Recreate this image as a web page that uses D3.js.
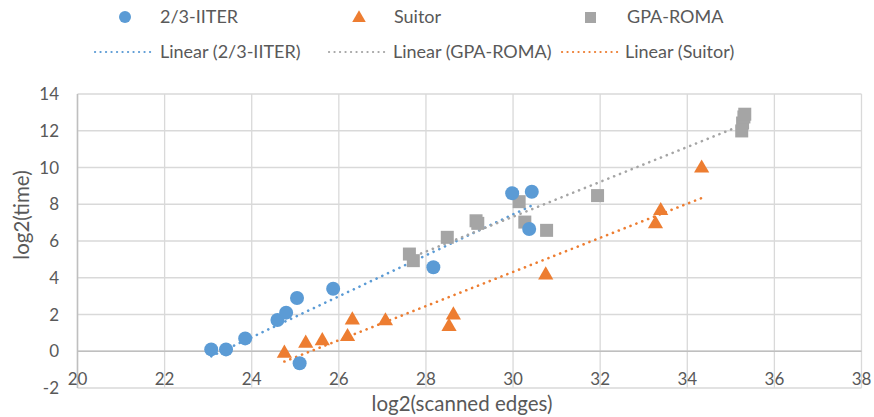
<!DOCTYPE html>
<html>
<head>
<meta charset="utf-8">
<script src="https://cdn.jsdelivr.net/npm/d3@7"></script>
<style>
  body { margin: 0; background: #fff; }
  svg text { font-family: Lato, "Open Sans", sans-serif; fill: #595959; }
</style>
</head>
<body>
<div id="chart"></div>
<script>
// log2(scanned edges) / log2(time)
const iterX = [23.07, 23.41, 23.85, 24.59, 24.79, 25.04, 25.10, 25.87, 28.17, 29.98, 30.43, 30.37];
const iterY = [0.10, 0.10, 0.70, 1.70, 2.10, 2.90, -0.65, 3.40, 4.57, 8.60, 8.68, 6.65];

const suitorX = [24.75, 25.24, 25.62, 26.20, 26.31, 27.07, 28.63, 28.53, 30.75, 33.39, 33.27, 34.33];
const suitorY = [-0.11, 0.43, 0.57, 0.79, 1.70, 1.65, 1.97, 1.34, 4.15, 7.65, 6.93, 9.96];

const romaX = [27.62, 27.71, 28.49, 29.15, 29.19, 30.14, 30.27, 30.77, 31.94, 35.25, 35.27, 35.30, 35.32];
const romaY = [5.29, 4.93, 6.20, 7.10, 6.96, 8.14, 7.03, 6.58, 8.47, 11.99, 12.42, 12.75, 12.90];

const xTicks = [20, 22, 24, 26, 28, 30, 32, 34, 36, 38];
const yTicks = [-2, 0, 2, 4, 6, 8, 10, 12, 14];

document.addEventListener('DOMContentLoaded', function () {
    const width = 874;
    const height = 417;
    const left = 77.5, right = 861.5, top = 94, bottom = 388;

    const blue = '#5b9bd5';
    const orange = '#ed7d31';
    const gray = '#a5a5a5';

    const svg = d3.select('#chart')
        .append('svg')
        .attr('width', width)
        .attr('height', height);

    const x = d3.scaleLinear().domain([20, 38]).range([left, right]);
    const y = d3.scaleLinear().domain([-2, 14]).range([bottom, top]);

    // gridlines
    svg.append('g')
        .selectAll('line')
        .data(xTicks)
        .enter()
        .append('line')
        .attr('x1', d => x(d)).attr('x2', d => x(d))
        .attr('y1', top).attr('y2', bottom)
        .attr('stroke', '#d9d9d9')
        .attr('stroke-width', 1.3);

    svg.append('g')
        .selectAll('line')
        .data(yTicks)
        .enter()
        .append('line')
        .attr('x1', left).attr('x2', right)
        .attr('y1', d => y(d)).attr('y2', d => y(d))
        .attr('stroke', '#d9d9d9')
        .attr('stroke-width', 1.3);

    // axis lines (x axis crosses at 0)
    svg.append('line')
        .attr('x1', left).attr('x2', right)
        .attr('y1', y(0)).attr('y2', y(0))
        .attr('stroke', '#bfbfbf')
        .attr('stroke-width', 1.5);
    svg.append('line')
        .attr('x1', x(20)).attr('x2', x(20))
        .attr('y1', top).attr('y2', bottom)
        .attr('stroke', '#bfbfbf')
        .attr('stroke-width', 1.5);

    // tick labels
    svg.append('g')
        .selectAll('text')
        .data(xTicks)
        .enter()
        .append('text')
        .attr('x', d => x(d))
        .attr('y', 385)
        .attr('text-anchor', 'middle')
        .style('font-size', '17px')
        .text(d => d);

    svg.append('g')
        .selectAll('text')
        .data(yTicks)
        .enter()
        .append('text')
        .attr('x', 59)
        .attr('y', d => y(d) + 6)
        .attr('text-anchor', 'end')
        .style('font-size', '17px')
        .text(d => d);

    // axis titles
    svg.append('text')
        .attr('x', 462)
        .attr('y', 411)
        .attr('text-anchor', 'middle')
        .style('font-size', '20.5px')
        .text('log2(scanned edges)');

    svg.append('text')
        .attr('transform', 'translate(29,' + 215 + ') rotate(-90)')
        .attr('text-anchor', 'middle')
        .style('font-size', '20.5px')
        .text('log2(time)');

    // linear trendlines, least squares over each series' x range
    function fit(xs, ys) {
        const mx = d3.mean(xs), my = d3.mean(ys);
        const sxy = d3.sum(xs, (v, i) => (v - mx) * (ys[i] - my));
        const sxx = d3.sum(xs, v => (v - mx) * (v - mx));
        const b = sxy / sxx;
        const a = my - b * mx;
        const [x0, x1] = d3.extent(xs);
        return [[x0, a + b * x0], [x1, a + b * x1]];
    }

    const line = d3.line().x(d => x(d[0])).y(d => y(d[1]));

    const trends = [
        { pts: fit(iterX, iterY), color: blue },
        { pts: fit(romaX, romaY), color: gray },
        { pts: fit(suitorX, suitorY), color: orange }
    ];

    svg.append('g')
        .selectAll('path')
        .data(trends)
        .enter()
        .append('path')
        .attr('d', d => line(d.pts))
        .attr('fill', 'none')
        .attr('stroke', d => d.color)
        .attr('stroke-width', 2.6)
        .attr('stroke-linecap', 'round')
        .attr('stroke-dasharray', '0.1 6.2');

    // markers
    const iterData = iterX.map((v, i) => [v, iterY[i]]);
    const suitorData = suitorX.map((v, i) => [v, suitorY[i]]);
    const romaData = romaX.map((v, i) => [v, romaY[i]]);

    const tri = d3.symbol().type(d3.symbolTriangle).size(100);

    svg.append('g')
        .selectAll('rect')
        .data(romaData)
        .enter()
        .append('rect')
        .attr('x', d => x(d[0]) - 6.5)
        .attr('y', d => y(d[1]) - 6.5)
        .attr('width', 13)
        .attr('height', 13)
        .attr('fill', gray);

    svg.append('g')
        .selectAll('path')
        .data(suitorData)
        .enter()
        .append('path')
        .attr('d', tri)
        .attr('transform', d => 'translate(' + x(d[0]) + ',' + y(d[1]) + ')')
        .attr('fill', orange);

    svg.append('g')
        .selectAll('circle')
        .data(iterData)
        .enter()
        .append('circle')
        .attr('cx', d => x(d[0]))
        .attr('cy', d => y(d[1]))
        .attr('r', 7)
        .attr('fill', blue);

    // legend
    const legend = svg.append('g').style('font-size', '18px');

    legend.append('circle').attr('cx', 125).attr('cy', 17).attr('r', 6).attr('fill', blue);
    legend.append('text').attr('x', 160).attr('y', 23).text('2/3-IITER');

    legend.append('path').attr('d', d3.symbol().type(d3.symbolTriangle).size(80))
        .attr('transform', 'translate(359,18)').attr('fill', orange);
    legend.append('text').attr('x', 394).attr('y', 23).text('Suitor');

    legend.append('rect').attr('x', 585).attr('y', 12).attr('width', 11).attr('height', 11).attr('fill', gray);
    legend.append('text').attr('x', 627).attr('y', 23).text('GPA-ROMA');

    const legendLines = [
        { x0: 95, x1: 152, tx: 160, color: blue, label: 'Linear (2/3-IITER)' },
        { x0: 329, x1: 386, tx: 393, color: gray, label: 'Linear (GPA-ROMA)' },
        { x0: 562, x1: 619, tx: 625, color: orange, label: 'Linear (Suitor)' }
    ];

    legendLines.forEach(function (d) {
        legend.append('line')
            .attr('x1', d.x0).attr('x2', d.x1)
            .attr('y1', 52).attr('y2', 52)
            .attr('stroke', d.color)
            .attr('stroke-width', 2.2)
            .attr('stroke-linecap', 'round')
            .attr('stroke-dasharray', '0.1 5.4');
        legend.append('text').attr('x', d.tx).attr('y', 58).text(d.label);
    });
});
</script>
</body>
</html>
